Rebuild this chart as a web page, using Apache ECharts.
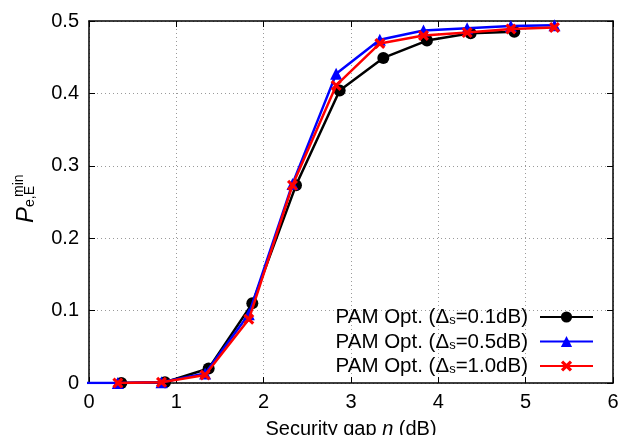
<!DOCTYPE html>
<html>
  <head>
    <meta charset="UTF-8" />
    <title>Security gap</title>
    <script src="https://cdn.jsdelivr.net/npm/echarts@6/dist/echarts.min.js"></script>
    <style>
      html, body { margin: 0; padding: 0; background: #fff; }
      #main { width: 622px; height: 435px; }
    </style>
  </head>
  <body>
    <div id="main"></div>
    <script type="text/javascript">
      // 数据：值
      var deltaLabels = ["0.1", "0.5", "1.0"];
      var xBlack = [0.37, 0.87, 1.37, 1.87, 2.37, 2.87, 3.37, 3.87, 4.37, 4.87];
      var yBlack = [0.0, 0.001, 0.02, 0.11, 0.273, 0.404, 0.449, 0.473, 0.483, 0.485];
      var xBlue = [-0.17, 0.33, 0.83, 1.33, 1.83, 2.33, 2.83, 3.33, 3.83, 4.33, 4.83, 5.33];
      var yBlue = [0.0, 0.0, 0.001, 0.013, 0.095, 0.275, 0.427, 0.474, 0.487, 0.49, 0.493, 0.494];
      var xRed = [0.33, 0.83, 1.33, 1.83, 2.33, 2.83, 3.33, 3.83, 4.33, 4.83, 5.33];
      var yRed = [0.0, 0.001, 0.011, 0.088, 0.273, 0.411, 0.469, 0.48, 0.484, 0.489, 0.491];
      var xTicks = [0, 6, 1];
      var yTicks = [0, 0.5, 0.1];

      function pairs(xs, ys) {
        return xs.map(function (x, i) { return [x, ys[i]]; });
      }

      var names = deltaLabels.map(function (d) { return "PAM Opt. (Δs=" + d + "dB)"; });
      var crossPath = "path://M0,2L2,0L5,3L8,0L10,2L7,5L10,8L8,10L5,7L2,10L0,8L3,5Z";
      var font = "Liberation Sans";

      var chart = echarts.init(document.getElementById("main"));

      var gridLine = { show: true, lineStyle: { color: "#9a9a9a", width: 1, type: [1, 3] } };
      var frameLine = { show: true, onZero: false, lineStyle: { color: "#000", width: 1.5 } };
      var tick = { show: true, inside: true, length: 6, lineStyle: { color: "#000", width: 1 } };

      var option = {
        animation: false,
        textStyle: { fontFamily: font },
        grid: { left: 89, right: 9, top: 21, bottom: 52, containLabel: false, outerBoundsMode: "none" },
        legend: {
          right: 23,
          top: 297,
          orient: "vertical",
          align: "right",
          itemWidth: 53,
          itemHeight: 14,
          itemGap: -1.5,
          data: names,
          formatter: function (name) {
            var d = deltaLabels[names.indexOf(name)];
            return "{a|PAM Opt. (Δ}{s|s}{a|=" + d + "dB)}";
          },
          textStyle: {
            padding: [0, 7, 0, 0],
            rich: {
              a: { fontSize: 20.5, fontFamily: font, color: "#000", lineHeight: 20, verticalAlign: "top" },
              s: { fontSize: 13, fontFamily: font, color: "#000", lineHeight: 13, verticalAlign: "bottom", padding: [12, 0, 0, 0] }
            }
          }
        },
        xAxis: [
          {
            type: "value",
            min: xTicks[0], max: xTicks[1], interval: xTicks[2],
            axisLine: frameLine,
            axisTick: tick,
            splitLine: gridLine,
            axisLabel: { color: "#000", fontSize: 20, margin: 9, fontFamily: font },
            name: "{a|Security gap }{i|η}{a| (dB)}",
            nameLocation: "middle",
            nameGap: 36,
            nameTextStyle: {
              rich: {
                a: { fontSize: 20, fontFamily: font, color: "#000" },
                i: { fontSize: 20, fontFamily: font, color: "#000", fontStyle: "italic" }
              }
            }
          },
          {
            type: "value",
            position: "top",
            min: xTicks[0], max: xTicks[1], interval: xTicks[2],
            axisLine: frameLine,
            axisTick: tick,
            splitLine: { show: false },
            axisLabel: { show: false }
          }
        ],
        yAxis: [
          {
            type: "value",
            min: yTicks[0], max: yTicks[1], interval: yTicks[2],
            axisLine: frameLine,
            axisTick: tick,
            splitLine: gridLine,
            axisLabel: { color: "#000", fontSize: 20, margin: 10, fontFamily: font }
          },
          {
            type: "value",
            position: "right",
            min: yTicks[0], max: yTicks[1], interval: yTicks[2],
            axisLine: frameLine,
            axisTick: tick,
            splitLine: { show: false },
            axisLabel: { show: false }
          }
        ],
        graphic: [
          {
            type: "group",
            x: 33,
            y: 223,
            rotation: Math.PI / 2,
            children: [
              {
                type: "text",
                style: { text: "P", x: 0, y: 5, font: "italic 24px 'Liberation Sans'", fill: "#000", verticalAlign: "bottom" }
              },
              {
                type: "text",
                style: { text: "e,E", x: 16, y: 4, font: "14px 'Liberation Sans'", fill: "#000", verticalAlign: "bottom" }
              },
              {
                type: "text",
                style: { text: "min", x: 26, y: -7, font: "14px 'Liberation Sans'", fill: "#000", verticalAlign: "bottom" }
              }
            ]
          }
        ],
        series: [
          {
            name: names[0],
            type: "line",
            data: pairs(xBlack, yBlack),
            color: "#000000",
            lineStyle: { width: 2.5 },
            symbol: "circle",
            symbolSize: 12,
            clip: true,
            z: 2
          },
          {
            name: names[1],
            type: "line",
            data: pairs(xBlue, yBlue),
            color: "#0000ff",
            lineStyle: { width: 2.5 },
            symbol: "triangle",
            symbolSize: 12,
            clip: true,
            z: 3
          },
          {
            name: names[2],
            type: "line",
            data: pairs(xRed, yRed),
            color: "#ff0000",
            lineStyle: { width: 2.5 },
            symbol: crossPath,
            symbolSize: 11,
            clip: true,
            z: 4
          }
        ]
      };

      chart.setOption(option);
    </script>
  </body>
</html>
